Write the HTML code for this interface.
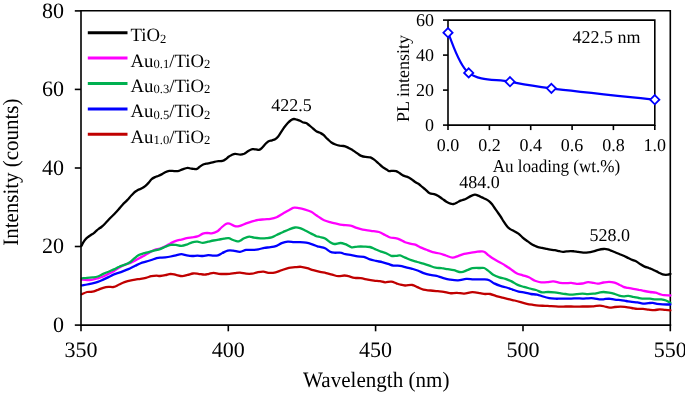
<!DOCTYPE html>
<html><head><meta charset="utf-8"><style>
html,body{margin:0;padding:0;background:#fff;}
body{width:685px;height:393px;overflow:hidden;}
svg{display:block;will-change:transform;}
text{font-family:"Liberation Serif",serif;fill:#000;text-rendering:geometricPrecision;}
</style></head><body>
<svg width="685" height="393" viewBox="0 0 685 393">
<rect width="685" height="393" fill="#fff"/>
<path d="M81.0,10.8 H670.3 V325.1" stroke="#000" stroke-width="1.6" fill="none"/>
<path d="M81.4,246.0 C81.7,245.5 82.4,243.8 83.0,242.8 C83.6,241.8 84.2,240.9 84.9,240.0 C85.7,239.1 86.5,238.2 87.5,237.4 C88.5,236.6 89.6,235.9 90.6,235.2 C91.6,234.5 92.7,233.9 93.5,233.3 C94.3,232.7 94.9,232.1 95.7,231.4 C96.5,230.7 97.3,229.8 98.3,229.1 C99.2,228.4 100.2,228.0 101.4,227.0 C102.6,226.0 104.1,224.6 105.4,223.2 C106.8,221.8 108.0,220.4 109.5,218.8 C111.0,217.2 113.1,215.3 114.6,213.7 C116.1,212.1 117.4,210.7 118.7,209.2 C120.0,207.7 121.2,206.2 122.6,204.7 C124.0,203.2 125.8,201.6 127.2,200.1 C128.7,198.6 130.0,196.8 131.3,195.5 C132.6,194.2 133.7,192.9 134.8,192.0 C135.9,191.1 136.8,190.5 137.9,189.9 C139.0,189.3 140.1,189.3 141.4,188.6 C142.7,187.9 144.3,186.9 145.5,185.9 C146.7,184.9 147.6,183.9 148.6,182.8 C149.6,181.7 150.5,180.1 151.6,179.2 C152.7,178.2 153.9,177.6 155.0,177.1 C156.1,176.6 157.0,176.4 158.1,176.0 C159.2,175.6 160.4,175.0 161.6,174.4 C162.8,173.8 163.9,172.8 165.2,172.2 C166.5,171.6 167.7,171.1 169.2,170.9 C170.7,170.7 172.7,171.1 174.3,171.1 C175.9,171.1 177.5,171.2 178.9,170.9 C180.3,170.6 181.1,169.8 182.5,169.3 C183.9,168.8 186.2,167.9 187.6,167.8 C188.9,167.7 189.7,168.3 190.6,168.5 C191.5,168.7 192.0,168.7 193.0,168.8 C194.0,168.9 195.6,169.2 196.6,169.0 C197.6,168.8 198.1,168.0 199.1,167.3 C200.1,166.6 201.5,165.3 202.7,164.7 C203.9,164.1 204.9,164.0 206.2,163.7 C207.5,163.4 208.9,163.2 210.3,162.9 C211.7,162.6 213.1,162.2 214.4,161.9 C215.8,161.6 217.1,161.4 218.4,161.2 C219.8,161.0 221.3,161.2 222.5,160.9 C223.7,160.6 224.6,160.0 225.6,159.3 C226.6,158.6 227.6,157.5 228.6,156.8 C229.6,156.1 230.2,155.7 231.3,155.2 C232.4,154.7 233.6,153.9 235.1,153.8 C236.6,153.7 238.7,154.7 240.2,154.7 C241.7,154.7 242.8,154.4 244.2,153.8 C245.5,153.2 246.9,151.8 248.3,151.0 C249.7,150.2 251.1,149.5 252.4,149.2 C253.7,148.9 254.8,149.3 255.9,149.4 C257.0,149.5 258.1,150.1 259.0,149.9 C259.9,149.7 260.5,149.3 261.5,148.4 C262.5,147.5 264.0,145.5 265.1,144.3 C266.2,143.2 267.0,142.2 268.2,141.5 C269.4,140.8 271.0,140.7 272.1,140.3 C273.2,139.9 274.1,139.9 275.1,139.3 C276.1,138.7 277.2,137.7 278.2,136.5 C279.2,135.3 280.2,133.4 281.2,131.9 C282.2,130.4 283.2,128.8 284.3,127.3 C285.4,125.8 286.7,124.2 287.8,123.0 C288.9,121.8 289.9,120.9 290.9,120.2 C291.9,119.5 292.9,119.1 293.9,119.0 C294.9,118.9 296.0,119.4 297.0,119.7 C298.0,120.0 299.1,120.3 300.0,120.7 C300.9,121.1 301.6,121.8 302.6,122.2 C303.6,122.6 305.0,122.5 306.1,123.0 C307.2,123.5 308.3,124.6 309.0,125.1 C309.7,125.6 309.3,125.3 310.1,126.0 C310.9,126.7 312.5,128.1 313.6,129.0 C314.7,129.9 315.5,130.8 316.7,131.5 C317.9,132.2 319.5,132.5 320.7,133.1 C321.9,133.7 322.7,134.2 323.8,135.2 C324.9,136.2 326.1,137.7 327.4,138.9 C328.7,140.1 330.0,141.6 331.4,142.5 C332.8,143.4 334.1,144.0 335.5,144.5 C336.9,145.0 338.2,145.4 339.6,145.7 C341.0,145.9 342.4,145.8 343.6,146.0 C344.8,146.2 346.1,146.7 347.0,147.1 C347.9,147.5 348.1,147.6 349.1,148.2 C350.1,148.8 351.8,149.7 353.1,150.5 C354.5,151.3 355.8,152.4 357.2,153.3 C358.6,154.2 359.9,155.3 361.3,155.9 C362.7,156.5 363.9,156.7 365.4,156.9 C366.9,157.2 368.9,156.9 370.4,157.4 C371.9,157.9 373.1,158.9 374.5,159.9 C375.9,160.9 377.2,162.3 378.6,163.5 C380.0,164.7 381.4,166.2 382.7,167.1 C383.9,168.0 385.0,168.5 386.1,169.2 C387.2,169.9 388.0,170.8 389.1,171.1 C390.2,171.4 391.5,170.8 392.7,170.8 C393.9,170.8 395.0,170.7 396.2,171.1 C397.4,171.5 398.6,172.6 399.8,173.3 C401.0,174.1 402.1,175.0 403.4,175.6 C404.7,176.2 406.0,176.3 407.4,176.9 C408.8,177.5 410.1,178.3 411.5,179.2 C412.9,180.1 414.3,181.5 415.6,182.3 C416.9,183.2 418.0,183.5 419.1,184.3 C420.2,185.1 421.4,186.3 422.5,187.2 C423.6,188.1 424.3,188.6 425.5,189.6 C426.7,190.6 428.2,192.6 429.7,193.3 C431.1,194.1 432.8,193.7 434.2,194.1 C435.6,194.5 436.9,195.1 438.3,195.9 C439.7,196.7 441.0,197.9 442.4,198.9 C443.8,199.9 445.0,200.9 446.4,201.7 C447.8,202.5 449.3,203.3 450.5,203.7 C451.7,204.1 452.5,204.2 453.6,204.0 C454.7,203.8 456.0,203.0 457.1,202.5 C458.2,202.0 459.1,201.3 460.0,200.9 C460.9,200.5 461.6,200.4 462.6,200.0 C463.6,199.6 464.8,199.3 466.1,198.7 C467.4,198.1 468.8,197.1 470.2,196.4 C471.6,195.7 473.4,194.8 474.8,194.7 C476.2,194.6 477.1,195.2 478.3,195.7 C479.5,196.1 480.7,196.8 481.9,197.4 C483.1,198.0 484.3,198.4 485.5,199.0 C486.7,199.6 487.9,200.2 489.0,201.1 C490.1,202.0 491.0,202.9 492.1,204.3 C493.2,205.7 494.5,207.9 495.6,209.4 C496.7,210.9 497.7,212.3 498.5,213.5 C499.3,214.7 499.8,215.2 500.6,216.5 C501.5,217.8 502.5,219.7 503.6,221.4 C504.7,223.1 506.1,225.2 507.2,226.5 C508.3,227.8 509.0,228.3 510.2,229.1 C511.4,229.9 512.9,230.4 514.3,231.2 C515.7,231.9 517.0,232.6 518.4,233.6 C519.8,234.6 521.0,236.2 522.4,237.3 C523.8,238.5 525.1,239.5 526.5,240.5 C527.9,241.5 529.3,242.6 530.6,243.4 C531.9,244.2 532.9,244.8 534.1,245.4 C535.4,246.0 536.8,246.7 538.1,247.1 C539.4,247.5 540.8,247.5 542.1,247.8 C543.5,248.1 544.8,248.5 546.2,248.8 C547.6,249.1 548.9,249.4 550.3,249.6 C551.7,249.8 553.3,249.9 554.8,250.2 C556.3,250.5 558.0,250.9 559.4,251.2 C560.8,251.5 561.8,251.9 563.0,251.9 C564.2,251.9 565.3,251.5 566.6,251.4 C567.9,251.3 569.4,251.1 570.6,251.1 C571.8,251.1 572.8,251.2 574.0,251.3 C575.2,251.4 576.6,251.7 578.1,251.9 C579.6,252.1 581.5,252.5 583.2,252.6 C584.9,252.7 586.6,252.6 588.3,252.4 C590.0,252.2 591.7,251.8 593.4,251.4 C595.1,251.0 596.7,250.2 598.4,249.8 C600.1,249.4 602.0,249.1 603.5,249.0 C605.0,248.9 606.4,249.0 607.6,249.3 C608.9,249.6 609.8,250.1 611.0,250.6 C612.2,251.1 613.6,251.7 615.1,252.3 C616.6,252.9 618.2,253.6 619.7,254.2 C621.2,254.8 622.7,255.3 624.2,256.0 C625.7,256.7 627.3,257.5 628.8,258.2 C630.2,258.9 631.6,259.6 632.9,260.1 C634.2,260.7 635.1,260.8 636.4,261.5 C637.7,262.2 639.1,263.4 640.5,264.3 C641.9,265.2 643.2,266.0 644.6,266.6 C646.0,267.2 647.5,267.5 648.8,268.0 C650.1,268.5 651.3,268.9 652.6,269.5 C653.9,270.1 655.2,270.8 656.5,271.4 C657.8,272.0 659.0,272.8 660.3,273.3 C661.6,273.9 662.8,274.5 664.1,274.7 C665.4,274.9 666.9,274.8 667.9,274.7 C668.9,274.6 670.0,274.0 670.4,273.9" fill="none" stroke="#000000" stroke-width="2.3" stroke-linejoin="round" stroke-linecap="round"/>
<path d="M81.8,279.6 C82.7,279.7 85.3,280.1 87.1,280.1 C88.9,280.1 90.7,279.9 92.5,279.6 C94.3,279.3 96.0,278.8 97.8,278.3 C99.6,277.8 101.4,277.2 103.2,276.5 C105.0,275.8 106.7,274.8 108.5,273.9 C110.3,273.0 112.1,272.2 113.9,271.2 C115.7,270.1 117.4,268.7 119.2,267.6 C121.0,266.6 122.7,265.6 124.5,264.9 C126.3,264.2 128.3,263.8 129.9,263.2 C131.5,262.6 132.8,261.8 134.3,261.0 C135.8,260.2 137.2,259.3 138.8,258.4 C140.4,257.5 142.3,256.7 144.1,255.7 C145.9,254.7 147.7,253.5 149.5,252.5 C151.3,251.5 153.1,250.5 154.8,249.8 C156.6,249.2 158.2,249.2 160.0,248.6 C161.8,248.0 163.5,247.3 165.3,246.4 C167.1,245.5 168.9,244.1 170.7,243.2 C172.5,242.3 174.2,241.4 176.0,240.8 C177.8,240.2 179.6,240.0 181.4,239.6 C183.2,239.2 184.9,238.6 186.7,238.2 C188.5,237.8 190.3,237.6 192.1,237.3 C193.9,237.0 195.6,237.0 197.4,236.4 C199.2,235.8 201.2,234.3 202.8,233.7 C204.4,233.1 205.7,232.9 207.2,232.8 C208.7,232.8 210.1,233.6 211.7,233.4 C213.3,233.2 215.4,232.6 217.0,231.6 C218.6,230.6 220.0,228.8 221.5,227.5 C223.0,226.2 224.6,224.6 225.9,223.9 C227.2,223.2 228.0,223.2 229.5,223.6 C231.0,224.0 233.1,225.8 234.8,226.2 C236.6,226.6 238.1,226.3 240.0,225.8 C241.9,225.3 244.1,224.1 246.1,223.4 C248.1,222.7 250.2,222.0 252.2,221.4 C254.2,220.8 256.3,220.2 258.3,219.9 C260.3,219.6 262.4,219.5 264.4,219.3 C266.4,219.1 268.5,219.2 270.5,218.9 C272.5,218.6 274.6,218.2 276.6,217.3 C278.6,216.5 280.6,215.0 282.7,213.8 C284.8,212.6 287.0,211.2 288.9,210.2 C290.8,209.2 292.2,208.0 293.9,207.7 C295.6,207.3 297.1,207.8 299.0,208.1 C300.9,208.4 303.1,209.0 305.1,209.6 C307.1,210.2 309.3,210.9 311.2,211.8 C313.1,212.8 314.8,214.3 316.3,215.3 C317.8,216.3 318.7,217.0 320.0,217.8 C321.3,218.6 322.4,219.5 324.1,220.2 C325.8,220.9 328.2,221.6 330.2,222.2 C332.2,222.8 334.3,223.1 336.3,223.6 C338.3,224.1 340.0,224.6 342.4,224.9 C344.8,225.2 348.1,225.2 350.5,225.7 C352.9,226.2 354.6,227.2 356.6,227.9 C358.6,228.6 360.3,229.2 362.7,229.7 C365.1,230.2 368.2,230.4 370.9,230.8 C373.6,231.2 376.6,231.3 379.0,232.0 C381.4,232.7 383.2,234.1 385.1,235.0 C387.0,235.9 388.5,237.0 390.2,237.5 C391.9,238.0 393.7,237.8 395.3,238.1 C396.9,238.4 398.4,238.9 400.0,239.6 C401.6,240.3 403.4,241.6 405.1,242.3 C406.8,243.0 408.5,243.3 410.2,243.7 C411.9,244.1 413.6,244.1 415.3,244.7 C417.0,245.3 418.5,246.6 420.4,247.4 C422.3,248.2 424.5,249.0 426.5,249.8 C428.5,250.6 430.4,251.5 432.6,252.1 C434.8,252.7 437.5,252.9 439.7,253.5 C441.9,254.1 443.7,254.8 445.8,255.5 C447.9,256.2 450.5,257.5 452.5,257.6 C454.5,257.7 456.1,256.7 458.0,256.1 C459.9,255.5 462.1,254.4 464.1,253.9 C466.1,253.4 468.2,253.2 470.2,252.9 C472.2,252.6 474.7,252.1 476.3,251.9 C477.9,251.7 478.7,251.5 480.0,251.5 C481.3,251.5 482.8,251.1 484.1,251.7 C485.5,252.3 486.8,253.9 488.1,255.0 C489.5,256.1 490.5,256.9 492.2,258.0 C493.9,259.1 496.3,260.4 498.3,261.5 C500.3,262.6 502.4,263.6 504.4,264.9 C506.4,266.1 508.5,267.6 510.5,269.0 C512.5,270.4 514.6,272.2 516.6,273.3 C518.6,274.4 520.7,274.6 522.7,275.3 C524.8,276.0 526.9,276.4 528.9,277.3 C530.9,278.2 533.0,280.0 535.0,280.8 C537.0,281.6 539.1,282.2 541.1,282.4 C543.1,282.6 545.2,282.4 547.2,282.2 C549.2,282.0 551.2,281.3 553.3,281.4 C555.4,281.5 558.0,282.5 560.0,282.8 C562.0,283.1 563.7,283.2 565.6,283.2 C567.5,283.2 569.3,282.8 571.2,282.9 C573.1,283.0 574.9,283.8 576.8,283.9 C578.7,284.0 580.5,283.8 582.4,283.5 C584.3,283.2 586.1,282.3 588.0,282.2 C589.9,282.1 592.0,282.7 593.6,282.9 C595.2,283.1 596.2,283.7 597.8,283.6 C599.4,283.5 601.5,282.8 603.4,282.5 C605.3,282.2 607.1,281.8 609.0,281.8 C610.9,281.8 612.8,282.1 614.5,282.6 C616.2,283.1 617.7,284.0 619.2,284.7 C620.7,285.4 622.0,286.3 623.4,286.8 C624.8,287.3 626.0,287.5 627.6,287.9 C629.2,288.2 631.3,288.6 633.2,288.9 C635.1,289.2 636.9,289.5 638.8,289.9 C640.7,290.2 642.5,290.6 644.4,291.0 C646.3,291.4 648.1,291.7 650.0,292.0 C651.9,292.3 654.0,292.3 655.6,292.7 C657.2,293.1 658.4,293.7 659.8,294.1 C661.2,294.5 662.2,295.0 664.0,295.2 C665.8,295.4 669.3,295.4 670.4,295.5" fill="none" stroke="#FF00FF" stroke-width="2.3" stroke-linejoin="round" stroke-linecap="round"/>
<path d="M81.8,278.3 C82.7,278.2 85.3,278.0 87.1,277.8 C88.9,277.6 90.7,277.6 92.5,277.4 C94.3,277.2 96.0,277.1 97.8,276.5 C99.6,275.9 101.4,274.7 103.2,273.9 C105.0,273.1 106.7,272.4 108.5,271.7 C110.3,270.9 112.1,270.2 113.9,269.4 C115.7,268.6 117.4,267.4 119.2,266.7 C121.0,265.9 122.7,265.6 124.5,264.9 C126.3,264.2 128.3,263.4 129.9,262.3 C131.5,261.2 132.8,259.6 134.3,258.4 C135.8,257.2 137.3,255.9 138.8,255.1 C140.3,254.3 141.7,253.9 143.3,253.4 C144.9,252.9 146.8,252.6 148.6,252.1 C150.4,251.6 152.0,251.2 153.9,250.7 C155.8,250.2 158.1,249.9 160.0,249.2 C161.9,248.5 163.5,247.4 165.3,246.7 C167.1,246.0 168.9,245.2 170.7,244.9 C172.5,244.6 174.2,244.8 176.0,244.9 C177.8,245.1 179.6,245.9 181.4,245.8 C183.2,245.8 184.9,245.2 186.7,244.6 C188.5,244.0 190.3,242.8 192.1,242.3 C193.9,241.8 195.6,241.6 197.4,241.7 C199.2,241.8 201.0,242.8 202.8,242.8 C204.6,242.8 206.3,242.1 208.1,241.7 C209.9,241.3 211.7,240.8 213.5,240.5 C215.3,240.2 217.0,239.9 218.8,239.6 C220.6,239.3 222.5,238.9 224.1,238.7 C225.7,238.5 227.1,238.0 228.6,238.2 C230.1,238.4 231.6,239.5 233.1,240.0 C234.6,240.5 236.3,241.3 237.5,241.4 C238.7,241.5 238.9,241.3 240.0,240.8 C241.1,240.3 242.6,239.0 244.1,238.3 C245.6,237.6 247.5,236.7 249.2,236.6 C250.9,236.5 252.3,237.4 254.2,237.7 C256.1,238.0 258.3,238.2 260.4,238.3 C262.4,238.4 264.6,238.3 266.5,238.1 C268.4,237.9 269.9,237.8 271.6,237.3 C273.3,236.8 274.8,235.8 276.6,235.0 C278.5,234.2 280.6,233.1 282.7,232.2 C284.8,231.3 286.8,230.3 288.9,229.5 C290.9,228.7 293.1,227.7 295.0,227.5 C296.9,227.3 298.3,227.6 300.0,228.1 C301.7,228.6 303.2,229.6 305.1,230.5 C307.0,231.4 309.3,232.7 311.2,233.6 C313.1,234.5 314.8,235.6 316.3,236.2 C317.8,236.8 318.5,236.6 320.0,237.0 C321.5,237.4 323.4,237.6 325.1,238.5 C326.8,239.4 328.7,241.3 330.2,242.2 C331.7,243.1 332.5,243.9 334.2,244.0 C335.9,244.1 338.5,243.0 340.4,243.0 C342.3,243.0 343.5,243.5 345.4,244.2 C347.3,244.9 349.6,246.9 351.6,247.3 C353.7,247.7 355.7,246.7 357.7,246.6 C359.7,246.5 361.8,246.5 363.8,246.6 C365.8,246.7 368.0,246.6 369.9,247.0 C371.8,247.4 373.1,248.3 375.0,249.1 C376.9,249.9 379.2,251.0 381.1,251.7 C383.0,252.4 384.5,252.5 386.2,253.2 C387.9,253.9 389.5,255.4 391.2,255.8 C392.9,256.2 394.8,255.9 396.3,255.8 C397.8,255.7 398.5,255.1 400.0,255.4 C401.5,255.7 403.2,256.8 405.1,257.6 C407.0,258.4 409.2,259.5 411.2,260.2 C413.2,260.9 415.3,261.4 417.3,262.0 C419.3,262.6 421.4,263.1 423.4,263.7 C425.4,264.3 427.5,265.0 429.5,265.7 C431.5,266.4 433.6,267.3 435.6,267.7 C437.6,268.1 439.7,267.9 441.7,268.2 C443.7,268.4 445.8,268.9 447.8,269.2 C449.8,269.5 451.7,269.7 453.9,270.2 C456.1,270.7 458.9,272.2 461.1,272.2 C463.3,272.2 465.3,270.9 467.2,270.2 C469.1,269.5 470.2,268.6 472.3,268.2 C474.4,267.8 478.0,268.0 480.0,268.0 C482.0,268.0 482.8,267.6 484.1,268.0 C485.5,268.4 486.6,269.5 488.1,270.6 C489.6,271.7 491.3,273.6 493.2,274.7 C495.1,275.8 497.3,276.6 499.3,277.3 C501.3,278.0 503.3,278.1 505.4,278.8 C507.4,279.5 509.6,280.4 511.6,281.4 C513.7,282.4 515.7,284.0 517.7,284.9 C519.7,285.8 521.8,286.3 523.8,286.9 C525.8,287.5 527.9,288.0 529.9,288.5 C531.9,289.0 534.0,289.4 536.0,290.0 C538.0,290.6 540.1,292.1 542.1,292.4 C544.1,292.7 546.2,292.0 548.2,292.0 C550.2,292.0 552.3,292.2 554.3,292.4 C556.3,292.6 558.1,292.9 560.0,293.2 C561.9,293.5 563.7,293.8 565.6,294.0 C567.5,294.2 569.3,294.7 571.2,294.7 C573.1,294.7 574.9,294.3 576.8,294.1 C578.7,293.9 580.5,293.7 582.4,293.7 C584.3,293.7 586.1,294.1 588.0,294.1 C589.9,294.1 591.7,293.9 593.6,293.7 C595.5,293.4 597.6,292.9 599.2,292.6 C600.8,292.3 601.8,292.0 603.4,292.0 C605.0,292.0 607.1,292.3 609.0,292.6 C610.9,292.9 612.8,293.3 614.5,293.8 C616.2,294.3 617.7,295.2 619.2,295.6 C620.7,296.0 621.9,296.2 623.4,296.3 C624.9,296.4 626.7,295.8 628.3,295.9 C629.9,296.0 631.5,296.5 633.2,296.9 C635.0,297.2 636.9,297.7 638.8,298.0 C640.7,298.3 642.5,298.6 644.4,298.7 C646.3,298.8 648.1,298.6 650.0,298.7 C651.9,298.8 653.7,299.3 655.6,299.4 C657.5,299.5 659.5,299.2 661.2,299.4 C662.9,299.6 664.5,299.9 666.0,300.5 C667.5,301.1 669.7,302.5 670.4,302.9" fill="none" stroke="#00B050" stroke-width="2.3" stroke-linejoin="round" stroke-linecap="round"/>
<path d="M81.8,285.4 C82.7,285.2 85.3,284.9 87.1,284.5 C88.9,284.1 90.7,283.7 92.5,283.3 C94.3,282.9 96.0,282.5 97.8,281.9 C99.6,281.3 101.4,280.4 103.2,279.6 C105.0,278.8 106.7,278.0 108.5,277.1 C110.3,276.2 112.1,275.1 113.9,274.4 C115.7,273.6 117.4,273.2 119.2,272.6 C121.0,272.0 122.7,271.3 124.5,270.6 C126.3,269.9 128.1,269.3 129.9,268.5 C131.7,267.7 133.4,266.7 135.2,265.8 C137.0,264.9 138.8,263.9 140.6,263.2 C142.4,262.5 144.1,262.2 145.9,261.7 C147.7,261.2 149.5,260.6 151.3,260.0 C153.1,259.4 155.2,258.6 156.6,258.2 C158.0,257.8 158.6,257.7 160.0,257.6 C161.4,257.5 163.5,257.6 165.3,257.4 C167.1,257.2 168.9,256.9 170.7,256.5 C172.5,256.1 174.2,255.7 176.0,255.3 C177.8,254.9 179.6,254.2 181.4,254.2 C183.2,254.2 184.9,255.0 186.7,255.3 C188.5,255.6 190.3,255.9 192.1,256.0 C193.9,256.1 195.6,255.6 197.4,255.6 C199.2,255.6 201.0,256.1 202.8,256.0 C204.6,255.9 206.3,255.2 208.1,255.1 C209.9,255.0 211.9,255.6 213.5,255.6 C215.1,255.6 216.4,255.7 217.9,255.3 C219.4,254.9 220.8,253.8 222.4,253.0 C224.0,252.2 225.9,251.0 227.7,250.6 C229.5,250.2 231.0,250.4 233.1,250.6 C235.2,250.8 237.8,251.9 240.0,251.8 C242.2,251.7 244.1,250.2 246.1,249.9 C248.1,249.6 250.2,250.0 252.2,249.9 C254.2,249.8 256.3,249.7 258.3,249.3 C260.3,249.0 262.4,248.2 264.4,247.8 C266.4,247.5 268.5,247.5 270.5,247.2 C272.5,246.9 274.7,246.5 276.6,245.8 C278.5,245.1 279.8,243.9 281.7,243.2 C283.6,242.5 285.8,241.9 287.8,241.7 C289.8,241.5 291.9,242.0 293.9,242.1 C295.9,242.2 297.9,242.0 300.0,242.1 C302.1,242.2 304.1,242.3 306.2,242.7 C308.2,243.1 310.4,243.8 312.3,244.4 C314.2,245.0 316.1,246.0 317.4,246.4 C318.7,246.8 318.7,246.6 320.0,246.9 C321.3,247.2 323.4,247.5 325.1,248.3 C326.8,249.1 328.7,251.0 330.2,251.7 C331.7,252.4 332.5,252.5 334.2,252.7 C335.9,252.9 338.5,252.4 340.4,252.7 C342.3,252.9 343.5,253.8 345.4,254.2 C347.3,254.6 349.6,254.8 351.6,255.2 C353.7,255.6 355.7,256.1 357.7,256.4 C359.7,256.7 361.8,256.3 363.8,256.8 C365.8,257.3 367.9,258.6 369.9,259.3 C371.9,260.0 374.0,260.4 376.0,260.9 C378.0,261.4 380.1,261.6 382.1,262.1 C384.1,262.6 386.3,263.3 388.2,263.9 C390.1,264.5 391.3,265.3 393.3,265.6 C395.3,265.9 397.9,265.5 400.0,265.8 C402.1,266.1 404.1,266.8 406.1,267.3 C408.1,267.8 410.2,268.2 412.2,268.8 C414.2,269.4 416.3,270.0 418.3,270.8 C420.3,271.6 422.4,272.7 424.4,273.4 C426.4,274.1 428.5,274.5 430.5,274.9 C432.5,275.3 434.6,275.4 436.6,275.9 C438.6,276.4 440.5,277.3 442.7,277.9 C444.9,278.5 447.3,279.2 449.9,279.6 C452.4,280.0 455.3,280.5 458.0,280.4 C460.7,280.3 463.6,279.1 466.2,278.9 C468.8,278.7 471.0,279.3 473.3,279.4 C475.6,279.5 478.2,279.4 480.0,279.4 C481.8,279.4 482.6,279.3 484.1,279.4 C485.6,279.5 487.5,279.5 489.2,280.2 C490.9,280.9 492.3,282.4 494.2,283.4 C496.1,284.3 498.3,285.2 500.4,285.9 C502.4,286.6 504.5,286.9 506.5,287.5 C508.5,288.1 510.6,288.9 512.6,289.6 C514.6,290.3 516.7,291.1 518.7,291.6 C520.7,292.1 522.8,292.2 524.8,292.6 C526.8,293.0 528.9,293.7 530.9,294.0 C532.9,294.3 535.0,294.2 537.0,294.6 C539.0,295.0 541.1,295.9 543.1,296.5 C545.1,297.1 547.2,297.7 549.2,298.1 C551.2,298.5 553.5,298.6 555.3,298.7 C557.1,298.8 558.3,298.7 560.0,298.7 C561.7,298.7 563.7,298.6 565.6,298.6 C567.5,298.6 569.3,298.7 571.2,298.6 C573.1,298.6 574.9,298.3 576.8,298.3 C578.7,298.3 580.5,298.6 582.4,298.6 C584.3,298.6 586.1,298.4 588.0,298.3 C589.9,298.2 591.7,298.1 593.6,298.3 C595.5,298.5 597.6,299.1 599.2,299.3 C600.8,299.5 601.8,299.4 603.4,299.3 C605.0,299.2 607.1,298.6 609.0,298.6 C610.9,298.7 612.9,299.4 614.8,299.6 C616.7,299.9 618.7,299.9 620.6,300.1 C622.5,300.3 624.3,300.7 626.2,301.0 C628.1,301.3 629.9,301.7 631.8,301.9 C633.7,302.1 635.5,302.1 637.4,302.4 C639.3,302.7 641.1,303.5 643.0,303.6 C644.9,303.7 647.0,303.2 648.6,303.1 C650.2,303.0 651.4,302.8 652.8,302.9 C654.2,303.0 655.4,303.6 657.0,303.8 C658.6,304.0 660.4,304.2 662.6,304.3 C664.8,304.4 669.1,304.5 670.4,304.5" fill="none" stroke="#0000FF" stroke-width="2.3" stroke-linejoin="round" stroke-linecap="round"/>
<path d="M81.8,294.3 C82.7,293.9 85.3,292.4 87.1,292.0 C88.9,291.6 90.7,292.1 92.5,291.7 C94.3,291.3 96.0,290.5 97.8,289.9 C99.6,289.2 101.4,288.3 103.2,287.8 C105.0,287.3 106.7,287.0 108.5,286.9 C110.3,286.8 112.1,287.3 113.9,286.9 C115.7,286.5 117.4,285.3 119.2,284.5 C121.0,283.7 122.7,282.8 124.5,282.2 C126.3,281.6 128.1,281.0 129.9,280.6 C131.7,280.2 133.4,279.9 135.2,279.6 C137.0,279.3 138.8,279.1 140.6,278.8 C142.4,278.5 144.1,278.2 145.9,277.8 C147.7,277.4 149.5,276.6 151.3,276.2 C153.1,275.8 155.2,275.6 156.6,275.6 C158.0,275.6 158.6,276.1 160.0,276.0 C161.4,275.9 163.5,275.6 165.3,275.2 C167.1,274.8 168.9,273.9 170.7,273.8 C172.5,273.8 174.1,274.5 176.0,274.9 C177.9,275.3 180.4,276.1 182.3,276.1 C184.2,276.1 185.8,275.3 187.6,274.9 C189.4,274.5 191.2,273.7 193.0,273.5 C194.8,273.3 196.4,273.6 198.3,273.8 C200.2,274.0 202.7,274.7 204.5,274.7 C206.3,274.7 207.5,274.1 209.0,273.8 C210.5,273.5 211.9,272.9 213.5,272.9 C215.1,272.9 217.0,273.6 218.8,273.8 C220.6,274.0 222.3,274.0 224.1,274.0 C225.9,274.0 227.7,273.9 229.5,273.8 C231.3,273.7 233.1,273.3 234.8,273.1 C236.6,272.9 238.1,272.5 240.0,272.6 C241.9,272.7 244.1,273.5 246.1,273.7 C248.1,273.9 250.3,273.9 252.2,273.7 C254.1,273.5 255.4,272.6 257.3,272.3 C259.2,272.0 261.4,271.6 263.4,271.7 C265.4,271.8 267.5,272.8 269.5,272.9 C271.5,273.0 273.6,272.8 275.6,272.3 C277.6,271.9 279.5,270.9 281.7,270.2 C283.9,269.4 286.7,268.3 288.9,267.8 C291.1,267.3 293.0,267.4 295.0,267.2 C297.0,267.0 299.1,266.6 301.1,266.8 C303.1,267.0 305.2,267.6 307.2,268.2 C309.2,268.8 311.2,269.6 313.3,270.2 C315.4,270.8 317.9,271.4 320.0,271.9 C322.1,272.4 324.1,272.6 326.1,273.1 C328.1,273.6 330.2,274.2 332.2,274.7 C334.2,275.2 336.3,276.1 338.3,276.2 C340.3,276.3 342.7,275.5 344.4,275.5 C346.1,275.5 346.8,275.8 348.5,276.2 C350.2,276.6 352.6,277.5 354.6,277.8 C356.6,278.1 358.5,277.9 360.7,278.2 C362.9,278.5 365.6,279.2 367.8,279.6 C370.0,280.0 371.9,280.3 373.9,280.6 C375.9,280.9 378.1,280.9 380.0,281.2 C381.9,281.5 383.2,282.2 385.1,282.3 C387.0,282.4 389.3,281.5 391.2,281.7 C393.1,281.9 394.8,282.8 396.3,283.3 C397.8,283.8 398.5,284.1 400.0,284.5 C401.5,284.9 403.1,285.4 405.1,285.5 C407.1,285.6 410.2,284.7 412.2,285.0 C414.2,285.3 415.4,286.3 417.3,287.1 C419.2,287.9 421.2,289.1 423.4,289.7 C425.6,290.3 428.1,290.2 430.5,290.5 C432.9,290.8 435.5,291.0 437.7,291.2 C439.9,291.4 441.8,291.5 443.8,291.8 C445.8,292.1 447.7,293.0 449.9,293.2 C452.1,293.4 454.6,292.7 457.0,292.8 C459.4,292.9 461.6,293.7 464.1,293.6 C466.7,293.5 469.7,292.3 472.3,292.2 C474.9,292.1 477.9,292.8 480.0,293.1 C482.1,293.4 483.4,293.9 485.1,294.0 C486.8,294.1 488.3,293.6 490.2,294.0 C492.1,294.4 494.3,295.5 496.3,296.1 C498.3,296.7 500.4,297.2 502.4,297.7 C504.4,298.2 506.5,298.6 508.5,299.1 C510.5,299.6 512.6,300.0 514.6,300.5 C516.6,301.0 518.7,301.6 520.7,302.2 C522.7,302.8 524.8,303.4 526.8,303.8 C528.8,304.2 530.9,304.5 532.9,304.8 C534.9,305.1 537.0,305.4 539.0,305.6 C541.0,305.8 543.1,305.7 545.1,305.8 C547.1,305.9 548.7,306.1 551.2,306.2 C553.7,306.3 557.6,306.6 560.0,306.7 C562.4,306.8 563.7,306.5 565.6,306.5 C567.5,306.5 569.3,306.5 571.2,306.5 C573.1,306.5 574.9,306.7 576.8,306.7 C578.7,306.7 580.5,306.5 582.4,306.5 C584.3,306.5 586.1,306.5 588.0,306.5 C589.9,306.5 591.6,306.4 593.6,306.3 C595.6,306.2 598.0,305.6 599.9,305.6 C601.8,305.6 603.2,306.1 604.8,306.5 C606.4,306.9 608.0,307.6 609.7,307.7 C611.4,307.8 613.0,307.2 614.8,307.0 C616.6,306.8 618.7,306.6 620.6,306.6 C622.5,306.6 624.3,306.9 626.2,307.1 C628.1,307.3 629.9,307.7 631.8,308.0 C633.7,308.3 635.5,308.8 637.4,308.9 C639.3,309.0 641.1,308.8 643.0,308.9 C644.9,309.0 646.7,309.4 648.6,309.6 C650.5,309.8 652.3,310.1 654.2,310.1 C656.1,310.1 657.9,309.4 659.8,309.4 C661.6,309.4 663.5,309.8 665.3,309.9 C667.1,310.0 669.5,310.2 670.4,310.3" fill="none" stroke="#C00000" stroke-width="2.3" stroke-linejoin="round" stroke-linecap="round"/>
<g stroke="#000" stroke-width="1.6" fill="none" stroke-linecap="butt"><path d="M81.0,9.9 V325.1 H671.2"/><path d="M74.8,325.1 H81.0"/><path d="M74.8,246.5 H81.0"/><path d="M74.8,168.0 H81.0"/><path d="M74.8,89.4 H81.0"/><path d="M74.8,10.9 H81.0"/><path d="M81.0,325.1 V331.3"/><path d="M228.3,325.1 V331.3"/><path d="M375.6,325.1 V331.3"/><path d="M523.0,325.1 V331.3"/><path d="M670.3,325.1 V331.3"/></g>
<text x="64" y="331.8" font-size="22" text-anchor="end">0</text><text x="64" y="253.2" font-size="22" text-anchor="end">20</text><text x="64" y="174.7" font-size="22" text-anchor="end">40</text><text x="64" y="96.1" font-size="22" text-anchor="end">60</text><text x="64" y="17.6" font-size="22" text-anchor="end">80</text><text x="81.0" y="357" font-size="22" text-anchor="middle">350</text><text x="228.3" y="357" font-size="22" text-anchor="middle">400</text><text x="375.6" y="357" font-size="22" text-anchor="middle">450</text><text x="523.0" y="357" font-size="22" text-anchor="middle">500</text><text x="670.3" y="357" font-size="22" text-anchor="middle">550</text><text x="376.3" y="386.5" font-size="22" text-anchor="middle" textLength="146.4" lengthAdjust="spacingAndGlyphs">Wavelength (nm)</text><text transform="translate(17.6,172.2) rotate(-90)" font-size="22" text-anchor="middle" textLength="147.2" lengthAdjust="spacingAndGlyphs">Intensity (counts)</text>
<text x="291.5" y="111.1" font-size="18" text-anchor="middle">422.5</text><text x="479.5" y="188.1" font-size="18" text-anchor="middle">484.0</text><text x="609.8" y="240.9" font-size="18" text-anchor="middle">528.0</text>
<path d="M87.8,32.7 H127.5" stroke="#000000" stroke-width="3" /><text x="130.5" y="41.1" font-size="18.8">TiO<tspan font-size="12.6" dy="1.5">2</tspan></text><path d="M87.8,58.1 H127.5" stroke="#FF00FF" stroke-width="3" /><text x="130.5" y="66.5" font-size="18.8">Au<tspan font-size="12.6" dy="1.5">0.1</tspan><tspan dy="-1.5">/TiO</tspan><tspan font-size="12.6" dy="1.5">2</tspan></text><path d="M87.8,83.5 H127.5" stroke="#00B050" stroke-width="3" /><text x="130.5" y="91.9" font-size="18.8">Au<tspan font-size="12.6" dy="1.5">0.3</tspan><tspan dy="-1.5">/TiO</tspan><tspan font-size="12.6" dy="1.5">2</tspan></text><path d="M87.8,108.9 H127.5" stroke="#0000FF" stroke-width="3" /><text x="130.5" y="117.3" font-size="18.8">Au<tspan font-size="12.6" dy="1.5">0.5</tspan><tspan dy="-1.5">/TiO</tspan><tspan font-size="12.6" dy="1.5">2</tspan></text><path d="M87.8,134.3 H127.5" stroke="#C00000" stroke-width="3" /><text x="130.5" y="142.7" font-size="18.8">Au<tspan font-size="12.6" dy="1.5">1.0</tspan><tspan dy="-1.5">/TiO</tspan><tspan font-size="12.6" dy="1.5">2</tspan></text>
<g stroke="#000" stroke-width="1.6" fill="none"><path d="M448.0,20.1 V125.1 H654.8 V20.1 H448.0"/><path d="M443.0,125.1 H448.0"/><path d="M443.0,90.1 H448.0"/><path d="M443.0,55.1 H448.0"/><path d="M443.0,20.1 H448.0"/><path d="M448.0,125.1 V130.1"/><path d="M489.4,125.1 V130.1"/><path d="M530.7,125.1 V130.1"/><path d="M572.1,125.1 V130.1"/><path d="M613.4,125.1 V130.1"/><path d="M654.8,125.1 V130.1"/></g>
<path d="M448.0,32.7 C451.4,39.4 458.3,64.8 468.7,72.9 C479.0,81.1 496.3,79.1 510.0,81.7 C523.8,84.3 527.3,85.3 551.4,88.3 C575.5,91.4 637.6,97.8 654.8,99.7" fill="none" stroke="#0000FF" stroke-width="2.2"/>
<path d="M448.0,28.1 L452.6,32.7 L448.0,37.3 L443.4,32.7 Z" fill="#fff" stroke="#0000FF" stroke-width="1.8"/><path d="M468.7,68.3 L473.3,72.9 L468.7,77.5 L464.1,72.9 Z" fill="#fff" stroke="#0000FF" stroke-width="1.8"/><path d="M510.0,77.1 L514.6,81.7 L510.0,86.3 L505.4,81.7 Z" fill="#fff" stroke="#0000FF" stroke-width="1.8"/><path d="M551.4,83.8 L556.0,88.3 L551.4,92.9 L546.8,88.3 Z" fill="#fff" stroke="#0000FF" stroke-width="1.8"/><path d="M654.8,95.1 L659.4,99.7 L654.8,104.3 L650.2,99.7 Z" fill="#fff" stroke="#0000FF" stroke-width="1.8"/><text x="434" y="131.2" font-size="18" text-anchor="end">0</text><text x="434" y="96.2" font-size="18" text-anchor="end">20</text><text x="434" y="61.2" font-size="18" text-anchor="end">40</text><text x="434" y="26.2" font-size="18" text-anchor="end">60</text><text x="448.0" y="151.3" font-size="18" text-anchor="middle">0.0</text><text x="489.4" y="151.3" font-size="18" text-anchor="middle">0.2</text><text x="530.7" y="151.3" font-size="18" text-anchor="middle">0.4</text><text x="572.1" y="151.3" font-size="18" text-anchor="middle">0.6</text><text x="613.4" y="151.3" font-size="18" text-anchor="middle">0.8</text><text x="654.8" y="151.3" font-size="18" text-anchor="middle">1.0</text><text x="556.5" y="172" font-size="18" text-anchor="middle" textLength="127.6" lengthAdjust="spacingAndGlyphs">Au loading (wt.%)</text><text transform="translate(409,78.5) rotate(-90)" font-size="18" text-anchor="middle">PL intensity</text><text x="606.5" y="43.1" font-size="18" text-anchor="middle">422.5 nm</text>
</svg>
</body></html>
